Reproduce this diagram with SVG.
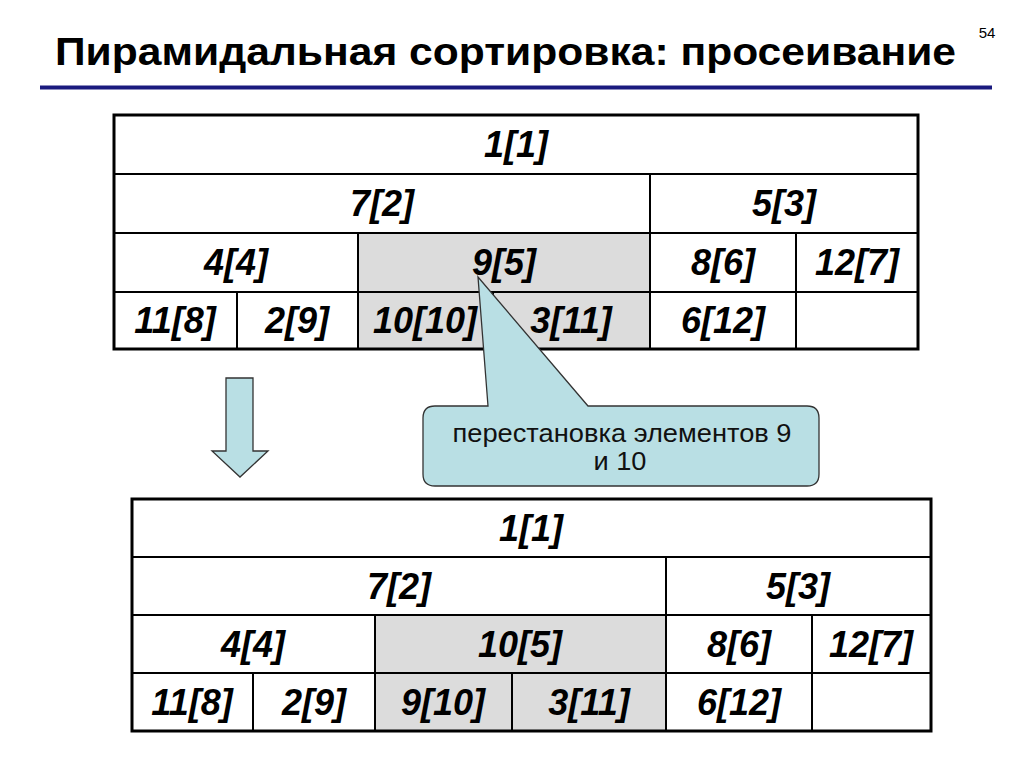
<svg xmlns="http://www.w3.org/2000/svg" width="1024" height="767" viewBox="0 0 1024 767">
<style>
.c{fill:#ffffff;stroke:#000;stroke-width:2}
.g{fill:#dcdcdc;stroke:#000;stroke-width:2}
.frame{fill:none;stroke:#000;stroke-width:3}
.t{font-family:"Liberation Sans",Arial,sans-serif;font-weight:bold;font-style:italic;font-size:36px;text-anchor:middle;fill:#000}
.title{font-family:"Liberation Sans",Arial,sans-serif;font-weight:bold;font-size:39px;fill:#000}
.call{fill:#b9dfe4;stroke:#333;stroke-width:1.3}
.ct{font-family:"Liberation Sans",Arial,sans-serif;font-size:25px;text-anchor:middle;fill:#111}
</style>
<rect width="1024" height="767" fill="#fff"/>
<g id="header">
<text class="title" x="55" y="65" textLength="901" lengthAdjust="spacingAndGlyphs">Пирамидальная сортировка: просеивание</text>
<text x="987" y="38" font-family="'Liberation Sans',Arial,sans-serif" font-size="15" text-anchor="middle" fill="#000">54</text>
<line x1="40" y1="87.5" x2="992" y2="87.5" stroke="#1a1a7e" stroke-width="4"/>
</g>
<g id="top-table">
<g id="t1"><rect class="c" x="114" y="115" width="804" height="59"/><text class="t" x="516" y="157">1[1]</text></g>
<g id="t2"><rect class="c" x="114" y="174" width="536" height="59"/><text class="t" x="382" y="216">7[2]</text></g>
<g id="t3"><rect class="c" x="650" y="174" width="268" height="59"/><text class="t" x="784" y="216">5[3]</text></g>
<g id="t4"><rect class="c" x="114" y="233" width="244" height="59"/><text class="t" x="236" y="275">4[4]</text></g>
<g id="t5"><rect class="g" x="358" y="233" width="292" height="59"/><text class="t" x="504" y="275">9[5]</text></g>
<g id="t6"><rect class="c" x="650" y="233" width="146" height="59"/><text class="t" x="723" y="275">8[6]</text></g>
<g id="t7"><rect class="c" x="796" y="233" width="122" height="59"/><text class="t" x="857" y="275">12[7]</text></g>
<g id="t8"><rect class="c" x="114" y="292" width="123" height="57"/><text class="t" x="175" y="333">11[8]</text></g>
<g id="t9"><rect class="c" x="237" y="292" width="121" height="57"/><text class="t" x="297" y="333">2[9]</text></g>
<g id="t10"><rect class="g" x="358" y="292" width="135" height="57"/><text class="t" x="425" y="333">10[10]</text></g>
<g id="t11"><rect class="g" x="493" y="292" width="157" height="57"/><text class="t" x="571" y="333">3[11]</text></g>
<g id="t12"><rect class="c" x="650" y="292" width="146" height="57"/><text class="t" x="723" y="333">6[12]</text></g>
<g id="t13"><rect class="c" x="796" y="292" width="122" height="57"/></g>
<rect class="frame" x="114" y="115" width="804" height="234"/>
</g>
<g id="connectors">
<path id="down-arrow" class="call" d="M226,378 L253,378 L253,451 L268,451 L240,477 L212,451 L226,451 Z"/>
</g>
<g id="callout">
<path class="call" d="M435,406 L488,406 L478,277 L588,406 L807,406 Q819,406 819,418 L819,474 Q819,486 807,486 L435,486 Q423,486 423,474 L423,418 Q423,406 435,406 Z"/>
<text class="ct" x="622" y="442" textLength="339" lengthAdjust="spacingAndGlyphs">перестановка элементов 9</text>
<text class="ct" x="620" y="470" textLength="53" lengthAdjust="spacingAndGlyphs">и 10</text>
</g>
<g id="bottom-table">
<g id="b1"><rect class="c" x="132" y="499" width="799" height="58"/><text class="t" x="531" y="541">1[1]</text></g>
<g id="b2"><rect class="c" x="132" y="557" width="534" height="58"/><text class="t" x="399" y="599">7[2]</text></g>
<g id="b3"><rect class="c" x="666" y="557" width="265" height="58"/><text class="t" x="798" y="599">5[3]</text></g>
<g id="b4"><rect class="c" x="132" y="615" width="243" height="58"/><text class="t" x="253" y="657">4[4]</text></g>
<g id="b5"><rect class="g" x="375" y="615" width="291" height="58"/><text class="t" x="520" y="657">10[5]</text></g>
<g id="b6"><rect class="c" x="666" y="615" width="146" height="58"/><text class="t" x="739" y="657">8[6]</text></g>
<g id="b7"><rect class="c" x="812" y="615" width="119" height="58"/><text class="t" x="871" y="657">12[7]</text></g>
<g id="b8"><rect class="c" x="132" y="673" width="121" height="58"/><text class="t" x="192" y="715">11[8]</text></g>
<g id="b9"><rect class="c" x="253" y="673" width="122" height="58"/><text class="t" x="314" y="715">2[9]</text></g>
<g id="b10"><rect class="g" x="375" y="673" width="137" height="58"/><text class="t" x="443" y="715">9[10]</text></g>
<g id="b11"><rect class="g" x="512" y="673" width="154" height="58"/><text class="t" x="589" y="715">3[11]</text></g>
<g id="b12"><rect class="c" x="666" y="673" width="146" height="58"/><text class="t" x="739" y="715">6[12]</text></g>
<g id="b13"><rect class="c" x="812" y="673" width="119" height="58"/></g>
<rect class="frame" x="132" y="499" width="799" height="232"/>
</g>
</svg>
